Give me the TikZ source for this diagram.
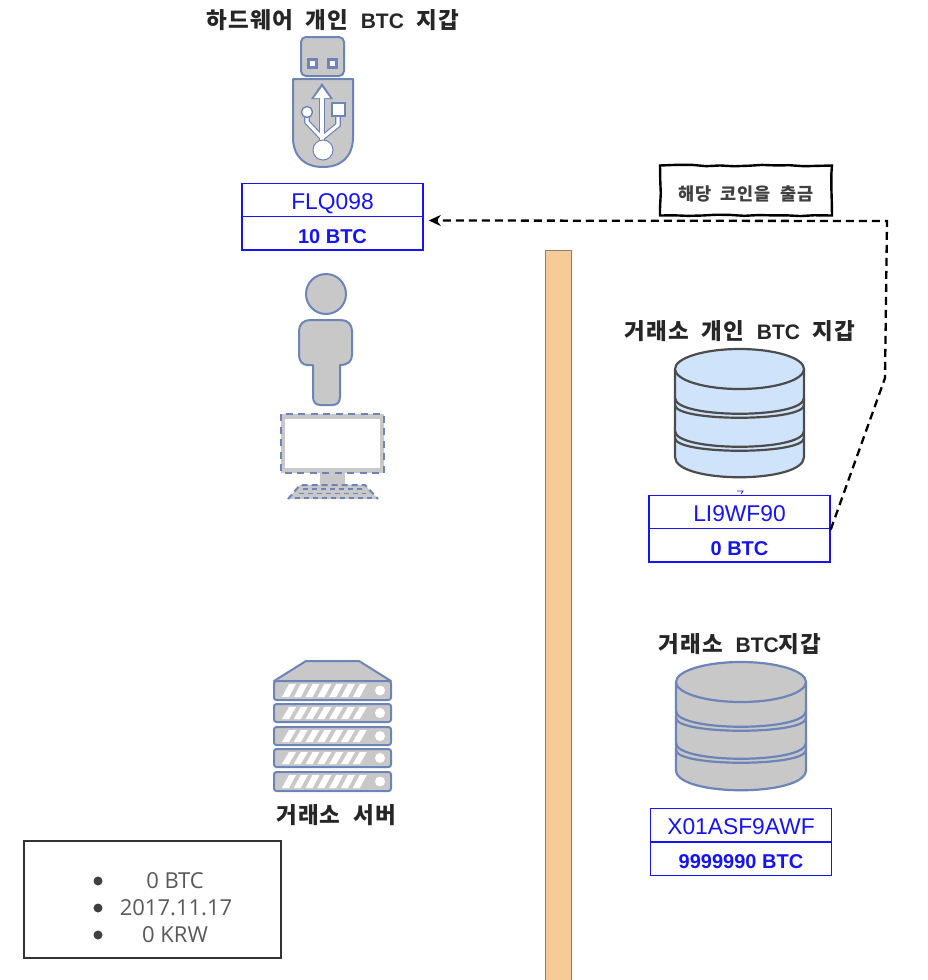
\documentclass[tikz,border=0pt]{standalone}
\usepackage{fontspec}
\setmainfont{Liberation Sans}
\newfontfamily\krfont[LetterSpace=5,WordSpace=2]{Noto Sans CJK KR}
\newfontfamily\bulletfont{Open Sans}
\newcommand{\latinbold}[1]{{\rmfamily\bfseries\fontsize{21}{26}\selectfont #1}}
\usetikzlibrary{decorations.pathmorphing,arrows.meta}
\definecolor{iconblue}{HTML}{6C84B8}
\definecolor{icongrey}{HTML}{C8C8C8}
\definecolor{addrblue}{HTML}{1414F5}
\definecolor{pillar}{HTML}{F6CB98}
\definecolor{dbblue}{HTML}{CFE3FB}
\tikzset{
  icon/.style={draw=iconblue,fill=icongrey,line width=2pt,line join=round},
  cut/.style={draw=white,line width=3.2pt},
  heading/.style={font=\krfont\bfseries\fontsize{22.5}{26}\selectfont,text=black!85,inner sep=0pt},
  addr/.style={draw=addrblue,line width=1.5pt,fill=white,minimum width=181pt,minimum height=33.5pt,inner sep=0pt,text=addrblue,font=\fontsize{22.8}{26}\selectfont,text height=18.2pt,text depth=0pt},
  bal/.style={addr,font=\bfseries\fontsize{20}{24}\selectfont,text height=20pt},
  bulleted/.style={text=black!65,inner sep=0pt,font=\bulletfont\fontsize{22}{26}\selectfont},
  dot/.style={circle,fill=black!75,inner sep=0pt,minimum size=9pt},
  notetext/.style={font=\krfont\bfseries\fontsize{17.5}{20}\selectfont,text=black!75,inner sep=0pt},
}
% left x, right x, top-ellipse centre y, fill, stroke, first/second separator y
\newcommand{\dbstack}[7]{%
  \begin{scope}[line width=2.2pt]
    \path[fill=#4] (#1,{#3}) -- (#1,{#3+88}) .. controls (#1,{#3+88+27}) and (#2,{#3+88+27}) .. (#2,{#3+88}) -- (#2,{#3}) -- cycle;
    \draw[draw=#5] (#1,{#3}) -- (#1,{#3+88}) .. controls (#1,{#3+88+27}) and (#2,{#3+88+27}) .. (#2,{#3+88}) -- (#2,{#3});
    \draw[draw=#5,fill=#4] ({(#1+#2)/2},{#3}) ellipse [x radius={(#2-#1)/2*1pt},y radius=20pt];
    \foreach \yy in {#6,#7}{
      \draw[draw=#5] (#1,\yy) .. controls (#1,\yy+21) and (#2,\yy+21) .. (#2,\yy);
      \draw[draw=#5] (#1,\yy+7) .. controls (#1,\yy+24) and (#2,\yy+24) .. (#2,\yy+7);
    }
  \end{scope}}
\newcommand{\serverunit}[2]{%
  \draw[icon,rounded corners=2.5pt] (274,#1) rectangle (391,#2);
  \foreach \sx in {0,...,6}{
    \fill[white] ({282+\sx*11.8},{#2-3}) -- ({289+\sx*11.8},{#2-3}) -- ({296+\sx*11.8},{#1+3}) -- ({289+\sx*11.8},{#1+3}) -- cycle;
  }
  \fill[white] (380,{(#1+#2)/2}) circle [radius=5pt];}
\begin{document}
\begin{tikzpicture}[x=1pt,y=-1pt]
\useasboundingbox (0,0) rectangle (928,980);
\fill[white] (0,0) rectangle (928,980);

% pillar
\draw[draw=black!50,fill=pillar,line width=1pt] (545,250) rectangle (571,981);

% USB stick
\draw[icon,rounded corners=5pt] (301,37) rectangle (344,76);
\draw[iconblue,fill=white,line width=2.2pt] (308.5,59.5) rectangle (316.5,67.5);
\draw[iconblue,fill=white,line width=2.2pt] (328.5,59.5) rectangle (336.5,67.5);
\draw[icon] (293,79) -- (353,79) -- (353,137) .. controls (353,157) and (341,167) .. (323,167) .. controls (305,167) and (293,157) .. (293,137) -- cycle;
\draw[iconblue,line width=5.6pt] (322,96) -- (322,145) (307,112) -- (307,122) -- (322,138) -- (338,125) -- (338,110);
\fill[iconblue] (322,83) -- (333,99) -- (311,99) -- cycle;
\draw[cut] (322,96) -- (322,145);
\draw[cut] (307,112) -- (307,122) -- (322,138) (322,138) -- (338,125) -- (338,110);
\fill[white] (322,87) -- (330,98) -- (314,98) -- cycle;
\draw[iconblue,fill=white,line width=1pt] (323,150) circle [radius=10pt];
\draw[iconblue,fill=white,line width=1.4pt] (307,112) circle [radius=5.5pt];
\draw[iconblue,fill=white,line width=1.4pt] (332,103) rectangle (345,116);

\node[heading] (hwlabel) at (333,20) {하드웨어 개인 \latinbold{BTC} 지갑};
\node[addr] (flqaddr) at (332.5,200) {FLQ098};
\node[bal] (flqbal) at (332.5,233) {10 BTC};

% person
\draw[icon] (326,294) circle [radius=20pt];
\draw[icon] (313,365) -- (307,365) .. controls (302,365) and (299,360) .. (299,355) -- (299,331) .. controls (299,324) and (304,320) .. (310,320) -- (341,320) .. controls (348,320) and (352,325) .. (352,331) -- (352,355) .. controls (352,361) and (348,365) .. (340,365) -- (340,397) .. controls (340,402) and (337,405) .. (333,405) -- (320,405) .. controls (316,405) and (313,402) .. (313,397) -- cycle;

% monitor
\fill[icongrey] (320,472) rectangle (345,486);
\fill[icongrey] (281,414) rectangle (384,473);
\draw[draw=iconblue,dash pattern=on 7pt off 5.5pt,line width=2.2pt] (281,414) rectangle (384,473);
\fill[white] (285,419) rectangle (380,468);
\fill[icongrey] (288,499) -- (300,485) -- (365,485) -- (378,499) -- cycle;
\draw[iconblue,line width=2pt,dash pattern=on 6pt off 4pt] (288,499) -- (300,485) -- (365,485) -- (378,499);
\draw[iconblue,line width=1.8pt,dash pattern=on 5pt off 4pt] (303,489) -- (362,489) (299,493.5) -- (366,493.5) (295,498) -- (372,498);

% server
\draw[icon] (274,681) -- (306,661) -- (359,661) -- (391,681) -- cycle;
\serverunit{681}{700}
\serverunit{704}{722}
\serverunit{727}{745}
\serverunit{749}{767}
\serverunit{772}{791}
\node[heading] (srvlabel) at (336,815) {거래소 서버};

% info box
\draw[draw=black!80,fill=white,line width=1.2pt] (24,841) rectangle (281,958);
\node[dot] (b1) at (98,881) {};
\node[dot] (b2) at (98,908) {};
\node[dot] (b3) at (98,935) {};
\node[bulleted] (t1) at (175,881) {0 BTC};
\node[bulleted] (t2) at (176,908) {2017.11.17};
\node[bulleted] (t3) at (175,935) {0 KRW};

% exchange personal wallet
\node[heading] (lilabel) at (740,331) {거래소 개인 \latinbold{BTC} 지갑};
\dbstack{675}{804}{369}{dbblue}{black!70}{398}{431}
\draw[addrblue,line width=.8pt] (737,491) -- (743,491) -- (741,494);
\node[addr] (liaddr) at (739.5,512) {LI9WF90};
\node[bal] (libal) at (739.5,545) {0 BTC};

% exchange wallet
\node[heading] (exlabel) at (740,644) {거래소 \latinbold{BTC}지갑};
\dbstack{676}{806}{682}{icongrey}{iconblue}{711}{743}
\node[addr] (exaddr) at (741,825) {X01ASF9AWF};
\node[bal] (exbal) at (741,858.5) {9999990 BTC};

% note
\pgfmathsetseed{7}
\node[draw=black,fill=white,line width=2.4pt,minimum width=172pt,minimum height=50pt,inner sep=0pt,
  decorate,decoration={random steps,segment length=14pt,amplitude=.8pt}] (note) at (746,190.5) {};
\node[notetext] (notelabel) at (746,194) {해당 코인을 출금};

% connector
\draw[black,line width=2.3pt,dash pattern=on 8pt off 5pt,-{Stealth[length=12pt,width=11pt]}]
  (liaddr.south east) -- (885,378) -- (887,221) -- ([xshift=5pt,yshift=-5pt]flqbal.north east);
\end{tikzpicture}
\end{document}
